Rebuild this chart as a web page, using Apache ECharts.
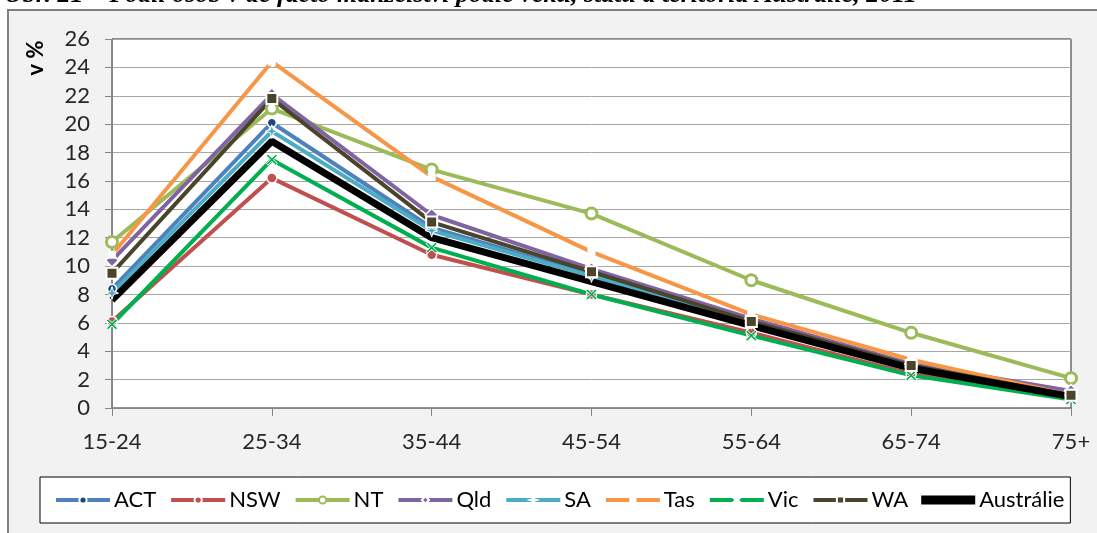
<!DOCTYPE html>
<html><head><meta charset="utf-8">
<script src="https://cdn.jsdelivr.net/npm/echarts@6/dist/echarts.min.js"></script>
<style>html,body{margin:0;padding:0;background:#fff;}#c{width:1097px;height:533px;}</style>
</head><body><div id="c"></div>
<script>
var categories = ['15-24','25-34','35-44','45-54','55-64','65-74','75+'];
var ACT = [8.4, 20.1, 12.7, 9.4, 6.0, 2.9, 0.8];
var NSW = [6.1, 16.2, 10.8, 8.0, 5.3, 2.4, 0.8];
var NT  = [11.7, 21.1, 16.8, 13.7, 9.0, 5.3, 2.1];
var Qld = [10.4, 22.1, 13.6, 9.8, 6.3, 3.1, 1.2];
var SA  = [8.1, 19.5, 12.5, 9.3, 6.0, 2.9, 0.9];
var Tas = [10.8, 24.4, 16.3, 11.0, 6.6, 3.4, 0.9];
var Vic = [5.9, 17.5, 11.3, 8.0, 5.1, 2.3, 0.6];
var WA  = [9.5, 21.8, 13.1, 9.6, 6.1, 3.0, 0.9];
var Australie = [7.6, 18.8, 12.0, 8.9, 5.8, 2.8, 0.8];
var legendNames = ['ACT','NSW','NT','Qld','SA','Tas','Vic','WA','Austrálie'];
var titleText = 'Obr. 21 – Podíl osob v de facto manželství podle věku, státu a teritoria Austrálie, 2011';
var yName = 'v %';

var starPath = 'path://M5,0 L6.2,3.8 L10,5 L6.2,6.2 L5,10 L3.8,6.2 L0,5 L3.8,3.8 Z';
var xPath = 'path://M0,1.5 L1.5,0 L5,3.5 L8.5,0 L10,1.5 L6.5,5 L10,8.5 L8.5,10 L5,6.5 L1.5,10 L0,8.5 L3.5,5 Z';

function mk(name, data, color, symbol, size, fill, border, bw, width) {
  return {
    name: name, type: 'line', data: data, symbol: symbol, symbolSize: size,
    showSymbol: symbol !== 'none',
    lineStyle: { color: color, width: width },
    itemStyle: { color: fill, borderColor: border, borderWidth: bw },
    emphasis: { disabled: true }, animation: false, z: 2
  };
}

var series = [
  mk('ACT', ACT, '#4f81bd', 'circle', 9, '#1f497d', '#fff', 1.5, 4),
  mk('NSW', NSW, '#c0504d', 'circle', 10, '#c0504d', '#fff', 1.5, 4),
  mk('NT', NT, '#9bbb59', 'circle', 11, '#ffffff', '#9bbb59', 3, 4),
  mk('Qld', Qld, '#8064a2', 'diamond', 13, '#8064a2', '#fff', 1.5, 4),
  mk('SA', SA, '#4bacc6', starPath, 13, '#4bacc6', '#fff', 1, 4),
  mk('Tas', Tas, '#f79646', 'rect', 8, '#ffffff', '#ffffff', 0, 4),
  mk('Vic', Vic, '#00b050', xPath, 11, '#00b050', '#fff', 1, 4),
  mk('WA', WA, '#4a452a', 'rect', 11, '#4a452a', '#fff', 2, 4),
  mk('Austrálie', Australie, '#000000', 'none', 0, '#000000', '#000', 0, 7)
];

var legendData = legendNames.map(function (n) {
  return n === 'Austrálie' ? { name: n, icon: 'rect', itemStyle: { color: '#000' } } : { name: n };
});

var chart = echarts.init(document.getElementById('c'), null, { renderer: 'canvas' });
chart.setOption({
  animation: false,
  backgroundColor: '#ffffff',
  graphic: [
    { type: 'rect', left: 7, top: 9, z: -10, shape: { width: 1200, height: 600 },
      style: { fill: '#f2f2f2', stroke: '#7f7f7f', lineWidth: 2 } },
    { type: 'text', x: 4, y: 8, z: 20,
      style: { text: titleText, fontFamily: 'Liberation Serif', fontStyle: 'italic', fontWeight: 'bold', fontSize: 26, fill: '#000', align: 'left', verticalAlign: 'bottom' } },
    { type: 'text', x: 36, y: 58, rotation: Math.PI / 2, z: 10,
      style: { text: yName, fontFamily: 'Lato', fontWeight: 'bold', fontSize: 22, fill: '#000', align: 'center', verticalAlign: 'middle' } }
  ],
  grid: { left: 112, right: 26, top: 39, bottom: 125, show: true, backgroundColor: '#ffffff', borderColor: '#262626', borderWidth: 1, containLabel: false },
  xAxis: {
    type: 'category', data: categories, boundaryGap: false,
    axisLine: { lineStyle: { color: '#868686', width: 1 } },
    axisTick: { show: true, length: 8, lineStyle: { color: '#868686' } },
    axisLabel: { fontFamily: 'Lato', fontSize: 22, color: '#262626', margin: 23 }
  },
  yAxis: {
    type: 'value', min: 0, max: 26, interval: 2,
    axisLine: { show: true, lineStyle: { color: '#868686', width: 1 } },
    axisTick: { show: true, length: 7, lineStyle: { color: '#868686' } },
    axisLabel: { fontFamily: 'Lato', fontSize: 22, color: '#262626', margin: 22 },
    splitLine: { lineStyle: { color: '#a6a6a6', width: 1 } }
  },
  legend: {
    bottom: 10, left: 40, width: 1080,
    backgroundColor: '#ffffff', borderColor: '#000000', borderWidth: 1,
    padding: [12, 6, 12, 14],
    itemWidth: 54, itemHeight: 9, itemGap: 13,
    lineStyle: { width: 4 },
    textStyle: { fontFamily: 'Lato', fontSize: 22, color: '#000', padding: [0, 0, 0, -1] },
    data: legendData
  },
  series: series
});
</script></body></html>
